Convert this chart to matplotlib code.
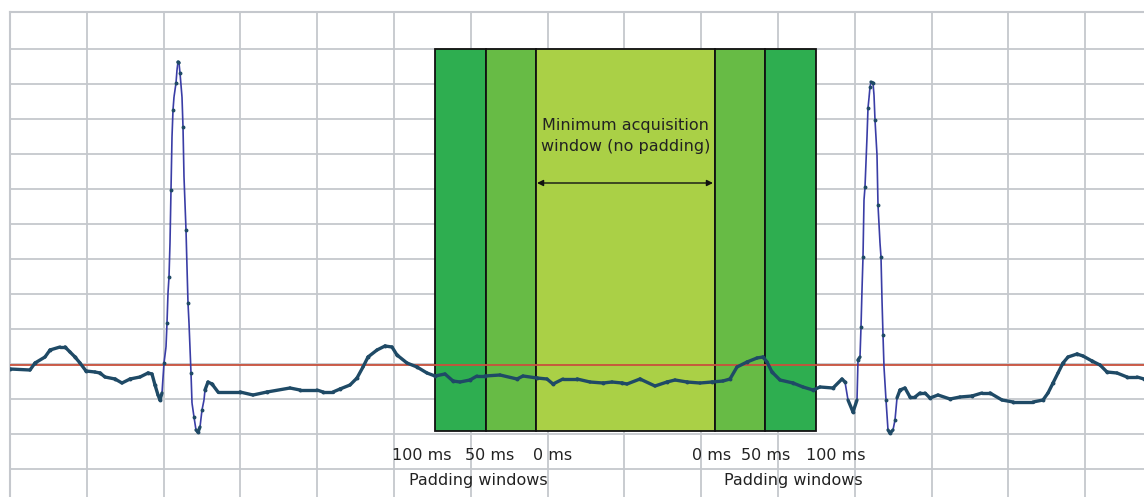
import numpy as np
import matplotlib
matplotlib.use("Agg")
import matplotlib.pyplot as plt
from matplotlib.collections import LineCollection

# ECG trace: time (ms, approx) and amplitude (arbitrary units, 35 units per grid division)
ecg_px_x = [10, 30, 35, 45, 50, 60, 65, 70, 75, 80, 86, 95, 100, 105, 115, 122, 130, 140, 148, 152, 155, 158, 160, 162,
            164, 166, 167, 168, 169, 170, 171, 172, 173, 174, 176, 177, 178, 179, 180, 182, 183, 184, 186, 187, 188, 189,
            191, 192, 194, 196, 198, 200, 202, 204, 205, 208,
            212, 218, 240, 253, 267, 290, 300, 317, 323, 333, 340, 350, 357, 363, 368, 377, 385, 392, 397, 407, 417, 427,
            435, 445, 453, 460, 470, 477, 485, 500, 517, 523, 537, 547, 553, 563, 577, 590, 603, 612, 622, 627, 640, 655,
            667, 675, 687, 700, 712, 723, 730, 737, 747, 757, 763, 767, 772, 780, 793, 803, 813, 820, 833, 842, 845, 848,
            853, 857,
            858, 860, 861, 862, 863, 864, 865, 867, 868, 869, 870, 871, 873, 874, 875, 877, 878, 880, 881, 882, 883, 884,
            886, 888, 890, 893, 895, 897, 900,
            905, 910, 915, 920, 925, 930, 938, 950, 960, 972, 982, 990, 1002, 1013, 1033, 1043, 1048, 1053, 1058, 1063,
            1068, 1077, 1083, 1092, 1100, 1107, 1117, 1127, 1137, 1144]
ecg_px_y = [369, 370, 363, 357, 350, 347, 347, 352, 357, 363, 371, 372, 373, 377, 379, 383, 379, 377, 373, 374, 385, 395, 400, 393,
            363, 347, 323, 293, 277, 243, 190, 137, 110, 97, 83, 70, 62, 63, 73, 97, 127, 177, 230, 267, 303, 323,
            373, 403, 417, 430, 432, 427, 410, 400, 390, 382,
            384, 392, 392, 395, 392, 388, 390, 390, 392, 392, 389, 385, 378, 367, 357, 350, 346, 347, 355, 363, 367, 373,
            376, 374, 381, 382, 380, 376, 376, 375, 379, 376, 378, 379, 384, 379, 379, 382, 383, 382, 383, 384, 379, 386,
            382, 380, 382, 383, 382, 381, 379, 367, 362, 358, 357, 362, 372, 380, 383, 387, 390, 387, 388, 379, 382, 400,
            412, 400,
            360, 357, 327, 290, 257, 200, 187, 137, 108, 98, 87, 82, 83, 95, 120, 155, 205, 243, 257, 300, 335, 367,
            400, 430, 433, 430, 420, 398, 390,
            388, 397, 397, 393, 393, 398, 395, 399, 397, 396, 393, 393, 400, 402, 402, 400, 393, 383, 373, 363,
            357, 354, 356, 361, 365, 372, 373, 377, 377, 379]

time_ms = [x - 10 for x in ecg_px_x]
amplitude = [364 - y for y in ecg_px_y]

baseline = -1
# acquisition window edges (ms): outer-left, pad50-left, min start, min end, pad50-right, outer-right
window_edges = [425, 476, 526, 705, 755, 806]
window_top = 315
window_bottom = -67

left_labels = ["100 ms", "50 ms", "0 ms"]
right_labels = ["0 ms", "50 ms", "100 ms"]
left_label_x = [412, 480, 543]
right_label_x = [702, 756, 826]
padding_title = "Padding windows"
center_title = "Minimum acquisition\nwindow (no padding)"

W, H = 1144, 497
fig = plt.figure(figsize=(W / 100, H / 100), dpi=100)
ax = fig.add_axes([10 / W, 0, (W - 10) / W, (H - 12) / H])
ax.set_xlim(0, W - 10)
ax.set_ylim(-133, 352)

grid_c = "#C5C8CD"
ax.set_xticks(np.arange(0, W - 10, 76.8))
ax.set_yticks(np.arange(-105, 350, 35))
ax.grid(True, color=grid_c, lw=1.3, zorder=0)
ax.tick_params(length=0, labelbottom=False, labelleft=False)
for s in ["right", "bottom"]:
    ax.spines[s].set_visible(False)
for s in ["top", "left"]:
    ax.spines[s].set_color(grid_c)
    ax.spines[s].set_linewidth(1.5)
ax.set_axisbelow(True)

# windows
cols = ["#2EAE50", "#67BB45", "#AAD046", "#67BB45", "#2EAE50"]
for i, c in enumerate(cols):
    ax.add_patch(plt.Rectangle((window_edges[i], window_bottom), window_edges[i + 1] - window_edges[i],
                               window_top - window_bottom, facecolor=c, edgecolor="#111111", lw=1.3, zorder=2))

# baseline
ax.axhline(baseline, color="#C8503C", lw=1.3, zorder=3)

# ECG trace: steep segments thin blue, slow segments thick dark
t = np.array(time_ms, float)
a = np.array(amplitude, float)
pts = np.column_stack([t, a])
segs = np.stack([pts[:-1], pts[1:]], axis=1)
slope = np.abs(np.diff(a)) / np.maximum(np.abs(np.diff(t)), 0.5)
steep = slope > 4
lc_steep = LineCollection(segs[steep], colors="#3A3DA6", linewidths=1.2, zorder=4, capstyle="butt")
lc_flat = LineCollection(segs[~steep], colors="#1F4A66", linewidths=2.4, zorder=5, capstyle="round")
ax.add_collection(lc_steep)
ax.add_collection(lc_flat)
ax.plot(t[::2], a[::2], ls="none", marker="o", ms=1.8, color="#1F4A66", zorder=6)

# arrow and labels
txt_c = "#222222"
fs = 11.5
ax.annotate("", xy=(window_edges[2] + 1, 364 - 183), xytext=(window_edges[3] - 2, 364 - 183),
            arrowprops=dict(arrowstyle="<|-|>", color="#111111", lw=1.0, mutation_scale=9,
                            shrinkA=0, shrinkB=0), zorder=7)
ax.text((window_edges[2] + window_edges[3]) / 2, 364 - 136, center_title, ha="center", va="center",
        fontsize=fs, color=txt_c, linespacing=1.45, zorder=7)
for lab, x in zip(left_labels, left_label_x):
    ax.text(x, 364 - 455, lab, ha="center", va="center", fontsize=fs, color=txt_c)
for lab, x in zip(right_labels, right_label_x):
    ax.text(x, 364 - 455, lab, ha="center", va="center", fontsize=fs, color=txt_c)
ax.text(468, 364 - 480, padding_title, ha="center", va="center", fontsize=fs, color=txt_c)
ax.text(783, 364 - 480, padding_title, ha="center", va="center", fontsize=fs, color=txt_c)

fig.savefig("out.png", dpi=100, facecolor="white")
